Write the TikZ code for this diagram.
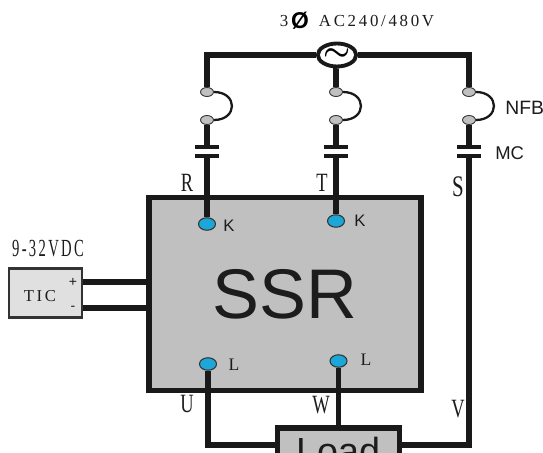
\documentclass[tikz,border=0pt]{standalone}
\usepackage{fontspec}
\setmainfont{Liberation Serif}
\newfontfamily\arialfont{Liberation Sans}
\newfontfamily\spacedfont[LetterSpace=16]{Liberation Serif}
\usepackage{xcolor}
\usetikzlibrary{positioning}
\usetikzlibrary{shapes.geometric}
\definecolor{boxgray}{HTML}{C0C0C0}
\definecolor{ticgray}{HTML}{E0E0E0}
\definecolor{dotblue}{HTML}{1BA8D8}
\definecolor{inkgray}{HTML}{1C1C1C}
\tikzset{
  wire/.style={line width=3.1pt,draw=black!90},
  jumper/.style={line width=1.3pt,draw=black!90},
  contact/.style={ellipse,draw=black!80,line width=0.5pt,fill=boxgray,inner sep=0pt,minimum width=0.26cm,minimum height=0.18cm},
  plate/.style={rectangle,fill=black!90,inner sep=0pt,minimum width=0.48cm,minimum height=0.065cm},
  terminal/.style={ellipse,draw=black!80,line width=0.6pt,fill=dotblue,inner sep=0pt,minimum width=0.34cm,minimum height=0.25cm},
  tall/.style={font=\fontsize{15}{15}\selectfont,xscale=0.7,text=inkgray,inner sep=0pt},
  smallsans/.style={font=\arialfont\fontsize{10.5}{11}\selectfont,text=inkgray,inner sep=0pt},
  smallserif/.style={font=\fontsize{10}{10}\selectfont,text=inkgray,inner sep=0pt}
}

\begin{document}
\begin{tikzpicture}[x=0.02cm,y=-0.02cm]
  \useasboundingbox (0,0) rectangle (543,452);

  %%%%%%%%%%%%%%%%%%%%%%%%%%%%%%%%%%%%%%%%%%%%%%%%%%%%%%%%%%%%%%%%%%%%%%%%%%
  %%% BEGIN: BOXES.
  %%%%%%%%%%%%%%%%%%%%%%%%%%%%%%%%%%%%%%%%%%%%%%%%%%%%%%%%%%%%%%%%%%%%%%%%%%
  \node[rectangle,draw=black!90,line width=3.1pt,fill=boxgray,inner sep=0pt,minimum width=5.44cm,minimum height=3.86cm,
    font=\arialfont\fontsize{40}{42}\selectfont,text=inkgray] (ssr) at (285,294) {SSR};
  \node[rectangle,draw=black!80,line width=1.5pt,fill=ticgray,inner sep=0pt,minimum width=1.46cm,minimum height=0.98cm] (tic) at (45.5,293) {};
  \node[rectangle,draw=black!90,line width=3.1pt,fill=boxgray,inner sep=0pt,minimum width=2.44cm,minimum height=0.68cm] (load) at (338.5,445) {};
  \node[font=\arialfont\fontsize{21.5}{22}\selectfont,text=inkgray,inner sep=0pt] (loadtext) at (338.5,451) {Load};
  %%%%%%%%%%%%%%%%%%%%%%%%%%%%%%%%%%%%%%%%%%%%%%%%%%%%%%%%%%%%%%%%%%%%%%%%%%
  %%% END: BOXES.
  %%%%%%%%%%%%%%%%%%%%%%%%%%%%%%%%%%%%%%%%%%%%%%%%%%%%%%%%%%%%%%%%%%%%%%%%%%

  % Source.
  \node[ellipse,draw=black!90,line width=2.2pt,fill=white,inner sep=0pt,minimum width=0.68cm,minimum height=0.46cm,font=\LARGE\boldmath] (src) at (337,55) {$\sim$};

  % Breaker and contactor, one for each phase.
  \foreach \n/\xc in {r/207,t/336,s/469}{
    \node[contact] (nfbtop\n) at (\xc,92) {};
    \node[contact] (nfbbot\n) at (\xc,120) {};
    \node[plate] (mctop\n) at (\xc,147) {};
    \node[plate] (mcbot\n) at (\xc,156) {};
    \draw[jumper] (nfbtop\n.east) .. controls +(24,0) and +(24,0) .. (nfbbot\n.east);
    \draw[wire] (nfbbot\n.south) -- (mctop\n.north);
  }

  % Terminals.
  \node[terminal] (k1) at (207,224) {};
  \node[terminal] (k2) at (336,221) {};
  \node[terminal] (l1) at (208,364) {};
  \node[terminal] (l2) at (338.5,361) {};

  % Wires.
  \draw[wire] (src.west) -| (nfbtopr.north);
  \draw[wire] (src.east) -| (nfbtops.north);
  \draw[wire] (src.south) -- (src.south -| nfbtopt.north) -- (nfbtopt.north);
  \draw[wire] (mcbotr.south) -- (k1.north);
  \draw[wire] (mcbott.south) -- (k2.north);
  \draw[wire] (mcbots.south) |- (load.east);
  \draw[wire] (l1.south) |- (load.west);
  \draw[wire] (l2.south) -- (load.north);
  \coordinate (ticplus) at (tic.east |- 0,282);
  \coordinate (ticminus) at (tic.east |- 0,308);
  \draw[wire] (ticplus) -- (ticplus -| ssr.west);
  \draw[wire] (ticminus) -- (ticminus -| ssr.west);

  % Labels.
  \node[smallserif,font=\spacedfont\fontsize{9.6}{10}\selectfont] (supply) at (376.5,21) {AC240/480V};
  \node[smallserif,font=\spacedfont\fontsize{9.6}{10}\selectfont] (supplyn) at (284,21) {3};
  \node[font=\arialfont\bfseries\fontsize{13}{13}\selectfont,inner sep=0pt] (supplyphi) at (300,21) {Ø};
  \node[smallsans,font=\arialfont\fontsize{11}{11}\selectfont,anchor=west] (nfb) at (505,108) {NFB};
  \node[smallsans,anchor=west] (mc) at (495,153) {MC};
  \node[tall] (rlabel) at (187,183) {R};
  \node[tall] (tlabel) at (322,183) {T};
  \node[tall,font=\fontsize{17}{17}\selectfont] (slabel) at (458,187) {S};
  \node[tall] (ulabel) at (187,404) {U};
  \node[tall] (wlabel) at (321,405) {W};
  \node[tall] (vlabel) at (458,409) {V};
  \node[smallsans,font=\arialfont\fontsize{9.5}{10}\selectfont] (klabela) at (229,226) {K};
  \node[smallsans,font=\arialfont\fontsize{9.5}{10}\selectfont] (klabelb) at (360,221) {K};
  \node[smallserif] (llabela) at (234,365) {L};
  \node[smallserif] (llabelb) at (366,360) {L};
  \node[tall,font=\spacedfont\fontsize{14}{15}\selectfont,xscale=0.85] (vdc) at (48,249) {9-32VDC};
  \node[smallserif,font=\spacedfont\fontsize{9.5}{10}\selectfont] (ticlabel) at (40,296) {TIC};
  \node[smallsans,font=\arialfont\fontsize{8}{8}\selectfont] (plus) at (73,282) {+};
  \node[smallsans,font=\arialfont\fontsize{8}{8}\selectfont] (minus) at (73,308) {-};
\end{tikzpicture}
\end{document}
